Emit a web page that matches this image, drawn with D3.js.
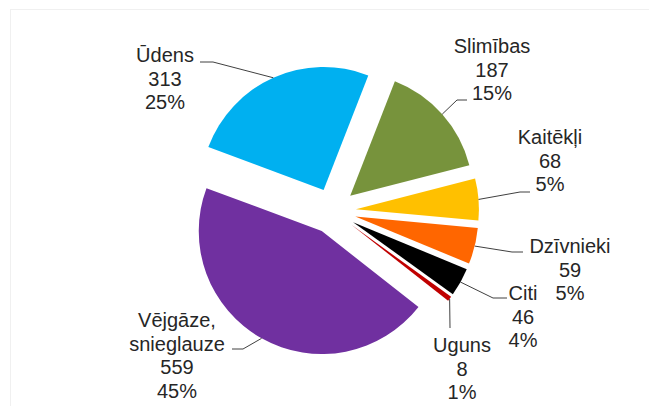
<!DOCTYPE html>
<html lang="lv">
<head>
    <meta charset="utf-8">
    <title>Bojājumu cēloņi</title>
    <script src="https://cdn.jsdelivr.net/npm/d3@7"></script>
    <style>
        body { margin: 0; background: #fff; }
        text { font-family: "Liberation Sans", Arial, sans-serif; font-size: 20px; fill: #262626; }
    </style>
</head>
<body>
<div id="chart"></div>

<script>
    // Dati
    var categories = ['Slimības', 'Kaitēkļi', 'Dzīvnieki', 'Citi', 'Uguns', 'Vējgāze, snieglauze', 'Ūdens'];
    var values = [187, 68, 59, 46, 8, 559, 313];
    var colors = ['#77933c', '#ffc000', '#ff6600', '#000000', '#c00000', '#7030a0', '#00b0f0'];

    var width = 649,
        height = 406,
        cx = 333,
        cy = 211,
        radius = 123,
        explode = 23,
        firstAngle = 21.3 * Math.PI / 180;

    // Etiķešu novietojums: teksta centrs, pirmā rinda, līnijas lūzuma punkti
    var labelLayout = {
        'Slimības': { x: 492, y: 53, line: [[457, 100], [467, 100]] },
        'Kaitēkļi': { x: 550, y: 144, line: [[520, 192], [530, 192]] },
        'Dzīvnieki': { x: 570, y: 253, line: [[512, 252], [523, 252]] },
        'Citi': { x: 523, y: 300, line: [[493, 298], [507, 298]] },
        'Uguns': { x: 462, y: 352, line: [[450, 328]] },
        'Vējgāze, snieglauze': { x: 177, y: 327, line: [[243, 349], [232, 349]] },
        'Ūdens': { x: 165, y: 62, line: [[213, 62], [200, 62]] }
    };

    var total = d3.sum(values);

    var data = categories.map(function(c, i) {
        return { name: c, value: values[i], color: colors[i] };
    });

    var pie = d3.pie()
        .sort(null)
        .value(function(d) { return d.value; })
        .startAngle(firstAngle)
        .endAngle(firstAngle + 2 * Math.PI);

    var arc = d3.arc().innerRadius(0).outerRadius(radius);
    var edge = d3.arc().innerRadius(radius).outerRadius(radius);

    function offset(d) {
        var a = (d.startAngle + d.endAngle) / 2;
        return [explode * Math.sin(a), -explode * Math.cos(a)];
    }

    var svg = d3.select('#chart').append('svg')
        .attr('width', width)
        .attr('height', height);

    svg.append('rect')
        .attr('x', 10.5)
        .attr('y', 9.5)
        .attr('width', 700)
        .attr('height', 500)
        .attr('fill', 'none')
        .attr('stroke', '#f0f0f0');

    var arcs = pie(data);

    var g = svg.append('g').attr('transform', 'translate(' + cx + ',' + cy + ')');

    g.selectAll('path.slice')
        .data(arcs)
        .enter()
        .append('path')
        .attr('class', 'slice')
        .attr('transform', function(d) { return 'translate(' + offset(d) + ')'; })
        .attr('d', arc)
        .attr('fill', function(d) { return d.data.color; });

    // Līnijas uz etiķetēm
    var line = d3.line();

    svg.selectAll('path.leader')
        .data(arcs)
        .enter()
        .append('path')
        .attr('class', 'leader')
        .attr('fill', 'none')
        .attr('stroke', '#404040')
        .attr('stroke-width', 1)
        .attr('d', function(d) {
            var o = offset(d),
                c = edge.centroid(d),
                start = [cx + o[0] + c[0], cy + o[1] + c[1]];
            return line([start].concat(labelLayout[d.data.name].line));
        });

    // Etiķetes
    svg.selectAll('text.label')
        .data(arcs)
        .enter()
        .append('text')
        .attr('class', 'label')
        .attr('text-anchor', 'middle')
        .each(function(d) {
            var pos = labelLayout[d.data.name],
                rows = d.data.name === 'Vējgāze, snieglauze' ? ['Vējgāze,', 'snieglauze'] : [d.data.name];
            rows = rows.concat([String(d.data.value), Math.round(d.data.value / total * 100) + '%']);
            d3.select(this).selectAll('tspan')
                .data(rows)
                .enter()
                .append('tspan')
                .attr('x', pos.x)
                .attr('y', function(r, i) { return pos.y + i * 23.5; })
                .text(function(r) { return r; });
        });
</script>
</body>
</html>
